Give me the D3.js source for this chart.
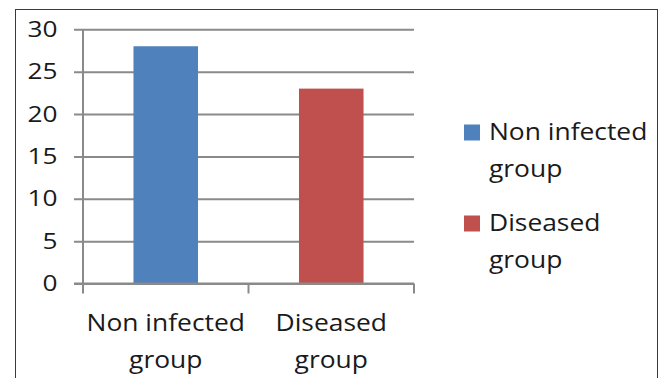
<!DOCTYPE html>
<html>
<head>
<meta charset="utf-8">
<script src="https://cdn.jsdelivr.net/npm/d3@7"></script>
<style>
  html, body { margin: 0; padding: 0; background: #fff; }
  svg { display: block; }
  text { font-family: "Open Sans", "DejaVu Sans", sans-serif; fill: #1a1a1a; }
</style>
</head>
<body>
<svg id="chart" width="663" height="378"></svg>
<script>
// Groups and their values
const categories = ["Non infected group", "Diseased group"];
const categoryLines = [["Non infected", "group"], ["Diseased", "group"]];
const values = [28, 23];
const colors = ["#4F81BD", "#C0504D"];
const yTicks = [0, 5, 10, 15, 20, 25, 30];

const svg = d3.select("#chart");

// outer chart frame
svg.append("rect")
  .attr("x", 15.5).attr("y", 9.5)
  .attr("width", 642).attr("height", 400)
  .attr("fill", "#fff").attr("stroke", "#3a3a3a").attr("stroke-width", 1);

const plot = { left: 83, right: 414, top: 29.3, bottom: 283.5 };

const x = d3.scaleBand()
  .domain(categories)
  .range([plot.left, plot.right])
  .paddingInner(0.61)
  .paddingOuter(0.305);

const y = d3.scaleLinear()
  .domain([0, 30])
  .range([plot.bottom, plot.top]);

const gridColor = "#8a8a8a";

// horizontal gridlines with left tick stubs
const yAxis = d3.axisLeft(y)
  .tickValues(yTicks)
  .tickSize(-(plot.right - plot.left))
  .tickSizeOuter(0)
  .tickFormat(d3.format("d"));

const gy = svg.append("g")
  .attr("transform", `translate(${plot.left},0)`)
  .call(yAxis);
gy.select(".domain").remove();
gy.selectAll(".tick line")
  .attr("x1", -9)
  .attr("stroke", gridColor)
  .attr("stroke-width", 2);
const ySx = 1.25;
gy.selectAll(".tick text")
  .attr("x", -25.5 / ySx)
  .attr("dy", "0.34em")
  .attr("transform", `scale(${ySx},1)`)
  .style("font-size", "21px")
  .attr("fill", "#1a1a1a");

// bars
svg.append("g").selectAll("rect")
  .data(categories)
  .join("rect")
  .attr("x", d => x(d))
  .attr("width", x.bandwidth())
  .attr("y", (d, i) => y(values[i]))
  .attr("height", (d, i) => y(0) - y(values[i]))
  .attr("fill", (d, i) => colors[i]);

// vertical axis line
svg.append("line")
  .attr("x1", plot.left).attr("x2", plot.left)
  .attr("y1", plot.top).attr("y2", plot.bottom)
  .attr("stroke", gridColor).attr("stroke-width", 2);

// horizontal axis with category boundary ticks
const step = x.step();
const bounds = [plot.left].concat(categories.map(c => x(c) + x.bandwidth() + (step - x.bandwidth()) / 2));
svg.append("line")
  .attr("x1", plot.left - 9).attr("x2", plot.right)
  .attr("y1", plot.bottom).attr("y2", plot.bottom)
  .attr("stroke", gridColor).attr("stroke-width", 2);
svg.append("g").selectAll("line")
  .data(bounds)
  .join("line")
  .attr("x1", d => d).attr("x2", d => d)
  .attr("y1", plot.bottom).attr("y2", plot.bottom + 10)
  .attr("stroke", gridColor).attr("stroke-width", 2);

// category labels (two lines each)
const catSx = 1.1;
const catG = svg.append("g").selectAll("g")
  .data(categories)
  .join("g")
  .attr("transform", d => `translate(${x(d) + x.bandwidth() / 2},0) scale(${catSx},1)`);
catG.each(function(d, i) {
  d3.select(this).selectAll("text")
    .data(categoryLines[i])
    .join("text")
    .attr("x", 0)
    .attr("y", (t, j) => 331 + j * 37)
    .attr("text-anchor", "middle")
    .style("font-size", "24px")
    .text(t => t);
});

// legend
const legend = svg.append("g");
const legendRows = [140, 231];
categories.forEach((c, i) => {
  const base = legendRows[i];
  legend.append("rect")
    .attr("x", 464).attr("y", base - 15.5)
    .attr("width", 16).attr("height", 16)
    .attr("fill", colors[i]);
  const t = legend.append("g")
    .attr("transform", `translate(489,0) scale(${catSx},1)`);
  t.selectAll("text")
    .data(categoryLines[i])
    .join("text")
    .attr("x", 0)
    .attr("y", (s, j) => base + j * 37)
    .style("font-size", "24px")
    .text(s => s);
});
</script>
</body>
</html>
